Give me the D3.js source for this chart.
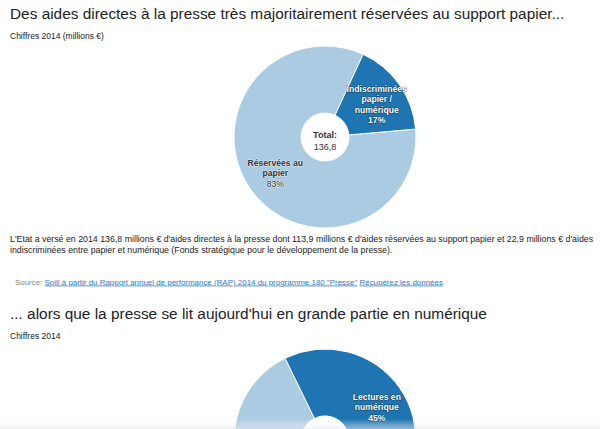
<!DOCTYPE html>
<html>
<head>
<meta charset="utf-8">
<script src="https://cdn.jsdelivr.net/npm/d3@7"></script>
<style>
  html, body { margin: 0; padding: 0; background: #fff; }
  svg { display: block; font-family: "Liberation Sans", Arial, Helvetica, sans-serif; }
</style>
</head>
<body>
<script>
// aides directes a la presse 2014 (millions €)
const aidesLabels = [['Réservées au', 'papier'], ['Indiscriminées', 'papier /', 'numérique']];
const aidesValues = [113.9, 22.9];
const aidesPct = ['83%', '17%'];
const aidesTotal = '136,8';

// lectures de la presse 2014
const lecturesLabels = [['Lectures sur', 'papier'], ['Lectures en', 'numérique']];
const lecturesValues = [55, 45];
const lecturesPct = ['55%', '45%'];

const colors = ['#abcbe3', '#1f74b2'];

const width = 600, height = 429;

const svg = d3.select('body')
  .append('svg')
  .attr('width', width)
  .attr('height', height);

function heading(y, title, sub) {
  svg.append('text')
    .attr('x', 10)
    .attr('y', y)
    .style('font-size', '15.4px')
    .style('fill', '#222')
    .text(title);

  svg.append('text')
    .attr('x', 10)
    .attr('y', y + 20)
    .style('font-size', '8.5px')
    .style('fill', '#222')
    .text(sub);
}

function donut(cx, cy, values, labels, pcts, startDeg, total) {
  const outer = 91, inner = 24, labelR = 62;
  const start = startDeg * Math.PI / 180;

  const pie = d3.pie()
    .sort(null)
    .value(d => d)
    .startAngle(start)
    .endAngle(start + 2 * Math.PI);

  const arc = d3.arc().innerRadius(inner).outerRadius(outer);
  const labelArc = d3.arc().innerRadius(labelR).outerRadius(labelR);

  const g = svg.append('g').attr('transform', `translate(${cx},${cy})`);
  const arcs = pie(values);

  g.selectAll('path')
    .data(arcs)
    .enter()
    .append('path')
    .attr('d', arc)
    .style('fill', (d, i) => colors[i])
    .style('stroke', '#fff')
    .style('stroke-width', 1);

  arcs.forEach((d, i) => {
    const [lx, ly] = labelArc.centroid(d);
    // labels below the window are not visible in the page
    if (cy + ly > height - 10) return;
    const lines = labels[i].concat([pcts[i]]);
    const dark = i === 1;
    const lh = 10.4;
    const t = g.append('text')
      .attr('text-anchor', 'middle')
      .attr('x', lx + 1)
      .attr('y', ly - (lines.length - 1) * lh / 2 + (dark ? 6 : 3.5))
      .style('font-size', '8.6px')
      .style('fill', dark ? '#fff' : '#333')
      .style('paint-order', 'stroke')
      .style('stroke', dark ? 'rgba(0,0,0,0.45)' : 'rgba(255,255,255,0.6)')
      .style('stroke-width', 1.2)
      .style('stroke-linejoin', 'round');

    lines.forEach((line, j) => {
      t.append('tspan')
        .attr('x', lx + 1)
        .attr('dy', j === 0 ? 0 : lh)
        .style('font-weight', (j === lines.length - 1 && !dark) ? 'normal' : 'bold')
        .text(line);
    });
  });

  if (total) {
    g.append('text')
      .attr('text-anchor', 'middle')
      .attr('y', 0.5)
      .style('font-size', '9px')
      .style('font-weight', 'bold')
      .style('fill', '#333')
      .text('Total:');
    g.append('text')
      .attr('text-anchor', 'middle')
      .attr('y', 12.5)
      .style('font-size', '9px')
      .style('fill', '#333')
      .text(total);
  }
}

heading(18.5, 'Des aides directes à la presse très majoritairement réservées au support papier...',
  'Chiffres 2014 (millions €)');

donut(325, 137, aidesValues, aidesLabels, aidesPct, 85, aidesTotal);

const para = svg.append('text')
  .style('font-size', '8.8px')
  .style('fill', '#222');
para.append('tspan').attr('x', 10).attr('y', 241.5)
  .text("L'Etat a versé en 2014 136,8 millions € d'aides directes à la presse dont 113,9 millions € d'aides réservées au support papier et 22,9 millions € d'aides");
para.append('tspan').attr('x', 10).attr('y', 253)
  .text('indiscriminées entre papier et numérique (Fonds stratégique pour le développement de la presse).');

const src = svg.append('text')
  .attr('x', 15)
  .attr('y', 284.5)
  .style('font-size', '7.95px');
src.append('tspan').style('fill', '#888').text('Source: ');
src.append('tspan')
  .style('fill', '#2f7bc4')
  .style('text-decoration', 'underline')
  .text('Spill à partir du Rapport annuel de performance (RAP) 2014 du programme 180 "Presse"');
src.append('tspan').style('fill', '#2f7bc4').text(' ');
src.append('tspan')
  .style('fill', '#2f7bc4')
  .style('text-decoration', 'underline')
  .text('Récupérez les données');

heading(318.5, "... alors que la presse se lit aujourd'hui en grande partie en numérique", 'Chiffres 2014');

donut(325, 440, lecturesValues, lecturesLabels, lecturesPct, 136, null);

// fondu gris en bas de la fenetre
const grad = svg.append('defs').append('linearGradient')
  .attr('id', 'fade')
  .attr('x1', 0).attr('y1', 0).attr('x2', 0).attr('y2', 1);
grad.append('stop').attr('offset', '0%').attr('stop-color', '#fff').attr('stop-opacity', 0);
grad.append('stop').attr('offset', '100%').attr('stop-color', '#e8e8e8').attr('stop-opacity', 0.6);
svg.append('rect')
  .attr('x', 0).attr('y', 419)
  .attr('width', width).attr('height', 10)
  .style('fill', 'url(#fade)');
</script>
</body>
</html>
